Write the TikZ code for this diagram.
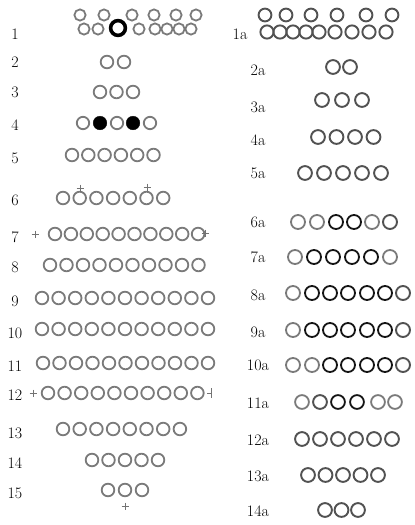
\documentclass[tikz,border=0pt]{standalone}
\usetikzlibrary{positioning}

\begin{document}
\begin{tikzpicture}[x=1pt, y=-1pt,
    bead/.style={draw=black!52, line width=1.8pt},
    midbead/.style={draw=black!68, line width=1.9pt},
    darkbead/.style={draw=black!92, line width=1.8pt},
    fullbead/.style={fill=black, draw=black},
    bigbead/.style={draw=black, line width=3.6pt},
    tickmark/.style={draw=black!55, line width=0.8pt},
    num/.style={font=\fontsize{16}{16}\selectfont, inner sep=0pt}
  ]
  \useasboundingbox (0,0) rectangle (415,525);

  % left column labels
  \foreach \k/\yy in {1/34,2/62,3/92,4/125,5/158,6/200,7/237,8/267,
                      9/301,10/333,11/366,12/395,13/433,14/463,15/493}
    \node[num] (l\k) at (15,\yy) {\k};

  % right column labels
  \node[num] (r1) at (240,34) {1a};
  \foreach \k/\yy in {2/70,3/107,4/140,5/173,6/222,7/257,8/295,
                      9/332,10/365,11/403,12/440,13/476,14/511}
    \node[num] (r\k) at (258,\yy) {\k a};

  % row 1, two staggered strands
  \foreach \xx in {80,104,132,154,176,196}
    \draw[bead] (\xx,15) circle (5.6);
  \foreach \xx in {84,98,139,155,167,179,191}
    \draw[bead] (\xx,29) circle (5.6);
  \draw[bigbead] (118,28) circle (7.4);

  % row 4
  \foreach \xx in {83,117,150}
    \draw[bead] (\xx,123) circle (6.2);
  \foreach \xx in {100,133}
    \draw[fullbead] (\xx,123) circle (6.8);

  % plain rows: y / first x / count / pitch
  \foreach \yy/\xa/\n/\dx in {62/107/2/17, 92/100/3/16.5, 155/72/6/16.3,
      198/63/7/16.7, 234/55/10/15.9, 265/50/10/16.5, 298/42/11/16.6,
      329/42/11/16.6, 363/43/11/16.5, 393/48/10/16.6, 429/63/8/16.7,
      460/92/5/16.5, 490/108/3/17}
    \foreach \i in {1,...,\n}
      \draw[bead] ({\xa+\dx*(\i-1)},\yy) circle (6.3);

  % small crosses
  \foreach \xx/\yy in {80/188, 147/187, 35/234, 205/233, 33/393, 125/506}
    \draw[tickmark] (\xx-3.5,\yy) -- (\xx+3.5,\yy) (\xx,\yy-3.5) -- (\xx,\yy+3.5);
  \draw[tickmark] (211,388) -- (211,398) (207,393) -- (211,393);

  % row 1a
  \foreach \xx in {265,286,311,337,366,392}
    \draw[midbead] (\xx,15) circle (6.4);
  \foreach \xx in {267,280,293,306,319,335,352,369,386}
    \draw[midbead] (\xx,32) circle (6.6);

  % rows 2a to 5a and 12a to 14a
  \foreach \yy/\xa/\n/\dx in {67/333/2/17, 100/322/3/20, 137/318/4/18.5,
      173/305/5/19, 439/302/6/18, 475/308/5/17.5, 510/325/3/16.5}
    \foreach \i in {1,...,\n}
      \draw[midbead] ({\xa+\dx*(\i-1)},\yy) circle (6.9);

  % rows 6a to 11a
  \foreach \xx/\st in {298/bead,317/bead,336/darkbead,354/darkbead,372/bead,390/midbead}
    \draw[\st] (\xx,222) circle (7);
  \foreach \xx/\st in {295/bead,314/darkbead,333/darkbead,352/darkbead,371/darkbead,390/bead}
    \draw[\st] (\xx,257) circle (7);
  \foreach \yy in {293,330}
    \foreach \xx/\st in {293/bead,312/darkbead,330/darkbead,348/darkbead,
                         367/darkbead,385/darkbead,403/midbead}
      \draw[\st] (\xx,\yy) circle (7);
  \foreach \xx/\st in {293/bead,312/bead,330/darkbead,348/darkbead,
                       367/darkbead,385/darkbead,403/midbead}
    \draw[\st] (\xx,365) circle (7);
  \foreach \xx/\st in {302/bead,320/midbead,338/darkbead,357/darkbead,378/bead,395/bead}
    \draw[\st] (\xx,402) circle (6.9);
\end{tikzpicture}
\end{document}
